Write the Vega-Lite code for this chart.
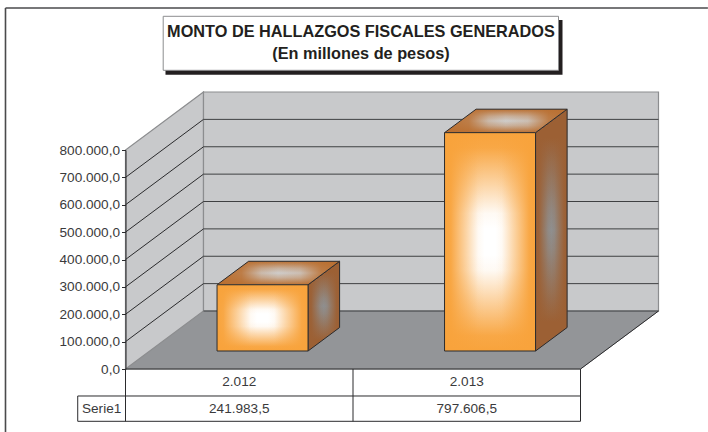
{
"$schema":"https://vega.github.io/schema/vega-lite/v6.json",
"width":455,"height":219,
"autosize":{"type":"none"},
"padding":{"left":125.5,"top":150,"right":127.5,"bottom":63},
"background":"white",
"config":{"view":{"stroke":null},"locale":{"number":{"decimal":",","thousands":".","grouping":[3],"currency":["$",""]}},"text":{"font":"Liberation Sans"}},
"datasets":{
"barras":[
{"anio":"2.012","valor":241983.5,"inicio":0.296,"fin":0.696,"centro":0.5},
{"anio":"2.013","valor":797606.5,"inicio":1.296,"fin":1.696,"centro":1.5}],
"marcas":[{"valor":0},{"valor":100000},{"valor":200000},{"valor":300000},{"valor":400000},{"valor":500000},{"valor":600000},{"valor":700000},{"valor":800000}],
"planos":[
{"plano":"suelo","orden":1,"px":0,"py":0},{"plano":"suelo","orden":2,"px":2,"py":0},{"plano":"suelo","orden":3,"px":2.34286,"py":211872},{"plano":"suelo","orden":4,"px":0.34286,"py":211872},
{"plano":"pared","orden":1,"px":0,"py":0},{"plano":"pared","orden":2,"px":0.34286,"py":211872},{"plano":"pared","orden":3,"px":0.34286,"py":1011872},{"plano":"pared","orden":4,"px":0,"py":800000},
{"plano":"fondo","orden":1,"px":0.34286,"py":211872},{"plano":"fondo","orden":2,"px":2.34286,"py":211872},{"plano":"fondo","orden":3,"px":2.34286,"py":1011872},{"plano":"fondo","orden":4,"px":0.34286,"py":1011872}],
"caras":[
{"anio":"2.012","cara":"lado","orden":1,"px":0.80229,"py":65680},{"anio":"2.012","cara":"lado","orden":2,"px":0.94114,"py":151488},{"anio":"2.012","cara":"lado","orden":3,"px":0.94114,"py":393471.5},{"anio":"2.012","cara":"lado","orden":4,"px":0.80229,"py":307663.5},
{"anio":"2.013","cara":"lado","orden":1,"px":1.80229,"py":65680},{"anio":"2.013","cara":"lado","orden":2,"px":1.94114,"py":151488},{"anio":"2.013","cara":"lado","orden":3,"px":1.94114,"py":949094.5},{"anio":"2.013","cara":"lado","orden":4,"px":1.80229,"py":863286.5},
{"anio":"2.012","cara":"techo","orden":1,"px":0.40229,"py":307663.5},{"anio":"2.012","cara":"techo","orden":2,"px":0.80229,"py":307663.5},{"anio":"2.012","cara":"techo","orden":3,"px":0.94114,"py":393471.5},{"anio":"2.012","cara":"techo","orden":4,"px":0.54114,"py":393471.5},
{"anio":"2.013","cara":"techo","orden":1,"px":1.40229,"py":863286.5},{"anio":"2.013","cara":"techo","orden":2,"px":1.80229,"py":863286.5},{"anio":"2.013","cara":"techo","orden":3,"px":1.94114,"py":949094.5},{"anio":"2.013","cara":"techo","orden":4,"px":1.54114,"py":949094.5}]
},
"encoding":{
"x":{"type":"quantitative","scale":{"domain":[0,2],"range":[0,455],"nice":false,"zero":false},"axis":null},
"y":{"type":"quantitative","scale":{"domain":[0,800000],"range":[219,0],"nice":false,"zero":false},"axis":{"values":[0,100000,200000,300000,400000,500000,600000,700000,800000],"format":",.1f","title":null,"grid":false,"domainColor":"#2b2b2d","tickColor":"#2b2b2d","tickSize":4,"labelPadding":2,"labelFont":"Liberation Sans","labelFontSize":13.6,"labelColor":"#3a3a3c","zindex":1}}
},
"layer":[
{"data":{"name":"planos"},"transform":[{"filter":{"field":"plano","equal":"suelo"}}],"mark":{"type":"line","interpolate":"linear-closed","fill":"#939598","stroke":"#939598","strokeWidth":1},
"encoding":{"x":{"field":"px"},"y":{"field":"py"},"order":{"field":"orden"}}},
{"data":{"name":"planos"},"transform":[{"filter":{"field":"plano","equal":"pared"}}],"mark":{"type":"line","interpolate":"linear-closed","fill":"#c8c9cb","stroke":"#8c8d8f","strokeWidth":1.2},
"encoding":{"x":{"field":"px"},"y":{"field":"py"},"order":{"field":"orden"}}},
{"data":{"name":"planos"},"transform":[{"filter":{"field":"plano","equal":"fondo"}}],"mark":{"type":"line","interpolate":"linear-closed","fill":"#c8c9cb","stroke":"#8c8d8f","strokeWidth":1.2},
"encoding":{"x":{"field":"px"},"y":{"field":"py"},"order":{"field":"orden"}}},
{"data":{"name":"marcas"},"transform":[{"filter":{"field":"valor","range":[0,700000]}}],"mark":{"type":"rule","stroke":"#3f4042","strokeWidth":1,"xOffset":78,"x2Offset":78,"yOffset":-58},
"encoding":{"x":{"datum":0},"x2":{"datum":2},"y":{"field":"valor"}}},
{"data":{"name":"marcas"},"transform":[{"filter":{"field":"valor","range":[100000,700000]}}],"mark":{"type":"rule","stroke":"#2b2b2d","strokeWidth":1,"x2Offset":78,"y2Offset":-58},
"encoding":{"x":{"datum":0},"x2":{"datum":0},"y":{"field":"valor"},"y2":{"field":"valor"}}},
{"data":{"values":[{}]},"mark":{"type":"rule","stroke":"#2b2b2d","strokeWidth":1,"x2Offset":78,"y2Offset":-58},"encoding":{"x":{"datum":2},"x2":{"datum":2},"y":{"datum":0},"y2":{"datum":0}}},

{"data":{"name":"caras"},"transform":[{"filter":{"field":"cara","equal":"lado"}}],"mark":{"type":"line","interpolate":"linear-closed","fill":"#8f8f8f","strokeWidth":0},
"encoding":{"x":{"field":"px"},"y":{"field":"py"},"detail":{"field":"anio"},"order":{"field":"orden"}}},
{"data":{"name":"caras"},"transform":[{"filter":{"field":"cara","equal":"lado"}}],"mark":{"type":"line","interpolate":"linear-closed","strokeWidth":0,"fill":{"gradient":"linear","x1":0,"y1":0,"x2":0,"y2":1,"stops":[{"offset":0,"color":"rgba(156,96,52,1)"},{"offset":0.12,"color":"rgba(156,96,52,1)"},{"offset":0.42,"color":"rgba(156,96,52,0.15)"},{"offset":0.5,"color":"rgba(156,96,52,0)"},{"offset":0.58,"color":"rgba(156,96,52,0.15)"},{"offset":0.88,"color":"rgba(156,96,52,1)"},{"offset":1,"color":"rgba(156,96,52,1)"}]}},
"encoding":{"x":{"field":"px"},"y":{"field":"py"},"detail":{"field":"anio"},"order":{"field":"orden"}}},
{"data":{"name":"caras"},"transform":[{"filter":{"field":"cara","equal":"lado"}}],"mark":{"type":"line","interpolate":"linear-closed","stroke":"#2b2b2d","strokeWidth":1,"fill":{"gradient":"linear","x1":0,"y1":0,"x2":1,"y2":0,"stops":[{"offset":0,"color":"rgba(156,96,52,1)"},{"offset":0.1,"color":"rgba(156,96,52,0.95)"},{"offset":0.4,"color":"rgba(156,96,52,0.1)"},{"offset":0.5,"color":"rgba(156,96,52,0)"},{"offset":0.6,"color":"rgba(156,96,52,0.1)"},{"offset":0.9,"color":"rgba(156,96,52,0.95)"},{"offset":1,"color":"rgba(156,96,52,1)"}]}},
"encoding":{"x":{"field":"px"},"y":{"field":"py"},"detail":{"field":"anio"},"order":{"field":"orden"}}},

{"data":{"name":"caras"},"transform":[{"filter":{"field":"cara","equal":"techo"}}],"mark":{"type":"line","interpolate":"linear-closed","fill":"#cfcdcb","strokeWidth":0},
"encoding":{"x":{"field":"px"},"y":{"field":"py"},"detail":{"field":"anio"},"order":{"field":"orden"}}},
{"data":{"name":"caras"},"transform":[{"filter":{"field":"cara","equal":"techo"}}],"mark":{"type":"line","interpolate":"linear-closed","strokeWidth":0,"fill":{"gradient":"linear","x1":0,"y1":0,"x2":0,"y2":1,"stops":[{"offset":0,"color":"rgba(186,112,50,1)"},{"offset":0.3,"color":"rgba(186,112,50,0.3)"},{"offset":0.5,"color":"rgba(186,112,50,0)"},{"offset":0.7,"color":"rgba(186,112,50,0.3)"},{"offset":1,"color":"rgba(186,112,50,1)"}]}},
"encoding":{"x":{"field":"px"},"y":{"field":"py"},"detail":{"field":"anio"},"order":{"field":"orden"}}},
{"data":{"name":"caras"},"transform":[{"filter":{"field":"cara","equal":"techo"}}],"mark":{"type":"line","interpolate":"linear-closed","stroke":"#2b2b2d","strokeWidth":1,"fill":{"gradient":"linear","x1":0,"y1":0,"x2":1,"y2":0,"stops":[{"offset":0,"color":"rgba(186,112,50,1)"},{"offset":0.2,"color":"rgba(186,112,50,0.85)"},{"offset":0.36,"color":"rgba(186,112,50,0.2)"},{"offset":0.5,"color":"rgba(186,112,50,0)"},{"offset":0.68,"color":"rgba(186,112,50,0.15)"},{"offset":0.85,"color":"rgba(186,112,50,0.85)"},{"offset":1,"color":"rgba(186,112,50,1)"}]}},
"encoding":{"x":{"field":"px"},"y":{"field":"py"},"detail":{"field":"anio"},"order":{"field":"orden"}}},

{"data":{"name":"barras"},"mark":{"type":"rect","fill":"#ffffff","xOffset":24.2,"x2Offset":24.2,"yOffset":-18,"y2Offset":-18},
"encoding":{"x":{"field":"inicio"},"x2":{"field":"fin"},"y":{"field":"valor"},"y2":{"datum":0}}},
{"data":{"name":"barras"},"mark":{"type":"rect","xOffset":24.2,"x2Offset":24.2,"yOffset":-18,"y2Offset":-18,"fill":{"gradient":"linear","x1":0,"y1":0,"x2":0,"y2":1,"stops":[{"offset":0,"color":"rgba(248,163,60,1)"},{"offset":0.07,"color":"rgba(248,163,60,0.95)"},{"offset":0.24,"color":"rgba(248,163,60,0.45)"},{"offset":0.37,"color":"rgba(248,163,60,0.06)"},{"offset":0.44,"color":"rgba(248,163,60,0)"},{"offset":0.56,"color":"rgba(248,163,60,0)"},{"offset":0.63,"color":"rgba(248,163,60,0.06)"},{"offset":0.76,"color":"rgba(248,163,60,0.45)"},{"offset":0.93,"color":"rgba(248,163,60,0.95)"},{"offset":1,"color":"rgba(248,163,60,1)"}]}},
"encoding":{"x":{"field":"inicio"},"x2":{"field":"fin"},"y":{"field":"valor"},"y2":{"datum":0}}},
{"data":{"name":"barras"},"mark":{"type":"rect","xOffset":24.2,"x2Offset":24.2,"yOffset":-18,"y2Offset":-18,"stroke":"#2b2b2d","strokeWidth":1,"fill":{"gradient":"linear","x1":0,"y1":0,"x2":1,"y2":0,"stops":[{"offset":0,"color":"rgba(248,163,60,1)"},{"offset":0.07,"color":"rgba(248,163,60,0.95)"},{"offset":0.24,"color":"rgba(248,163,60,0.45)"},{"offset":0.37,"color":"rgba(248,163,60,0.06)"},{"offset":0.44,"color":"rgba(248,163,60,0)"},{"offset":0.56,"color":"rgba(248,163,60,0)"},{"offset":0.63,"color":"rgba(248,163,60,0.06)"},{"offset":0.76,"color":"rgba(248,163,60,0.45)"},{"offset":0.93,"color":"rgba(248,163,60,0.95)"},{"offset":1,"color":"rgba(248,163,60,1)"}]}},
"encoding":{"x":{"field":"inicio"},"x2":{"field":"fin"},"y":{"field":"valor"},"y2":{"datum":0}}},

{"data":{"values":[{}]},"mark":{"type":"rule","stroke":"#2b2b2d","strokeWidth":1},"encoding":{"x":{"datum":0},"x2":{"datum":2},"y":{"datum":0}}},
{"data":{"values":[{}]},"mark":{"type":"rule","stroke":"#2b2b2d","strokeWidth":1},"encoding":{"x":{"datum":-0.21},"x2":{"datum":2},"y":{"datum":-98630}}},
{"data":{"values":[{}]},"mark":{"type":"rule","stroke":"#2b2b2d","strokeWidth":1},"encoding":{"x":{"datum":-0.21},"x2":{"datum":2},"y":{"datum":-191050}}},
{"data":{"values":[{}]},"mark":{"type":"rule","stroke":"#2b2b2d","strokeWidth":1},"encoding":{"x":{"datum":0},"y":{"datum":0},"y2":{"datum":-191050}}},
{"data":{"values":[{}]},"mark":{"type":"rule","stroke":"#2b2b2d","strokeWidth":1},"encoding":{"x":{"datum":1},"y":{"datum":0},"y2":{"datum":-191050}}},
{"data":{"values":[{}]},"mark":{"type":"rule","stroke":"#2b2b2d","strokeWidth":1},"encoding":{"x":{"datum":2},"y":{"datum":0},"y2":{"datum":-191050}}},
{"data":{"values":[{}]},"mark":{"type":"rule","stroke":"#2b2b2d","strokeWidth":1},"encoding":{"x":{"datum":-0.21},"y":{"datum":-98630},"y2":{"datum":-191050}}},
{"data":{"name":"barras"},"mark":{"type":"text","fontSize":13.6,"color":"#3a3a3c","align":"center","baseline":"middle"},"encoding":{"x":{"field":"centro"},"y":{"datum":-47000},"text":{"field":"anio"}}},
{"data":{"name":"barras"},"mark":{"type":"text","fontSize":13.6,"color":"#3a3a3c","align":"center","baseline":"middle"},"encoding":{"x":{"field":"centro"},"y":{"datum":-146000},"text":{"field":"valor","type":"quantitative","format":",.1f"}}},
{"data":{"values":[{"serie":"Serie1"}]},"mark":{"type":"text","fontSize":13.6,"color":"#3a3a3c","align":"center","baseline":"middle"},"encoding":{"x":{"datum":-0.105},"y":{"datum":-146000},"text":{"field":"serie"}}},

{"data":{"values":[{}]},"mark":{"type":"rule","stroke":"#4a4a4c","strokeWidth":1.6},"encoding":{"x":{"datum":-0.5275},"y":{"datum":1318721},"y2":{"datum":-235000}}},
{"data":{"values":[{}]},"mark":{"type":"rule","stroke":"#4a4a4c","strokeWidth":1.6},"encoding":{"x":{"datum":-0.5275},"x2":{"datum":2.56},"y":{"datum":1318721}}},
{"data":{"values":[{}]},"mark":{"type":"rect","fill":"#231f20"},"encoding":{"x":{"datum":0.1758},"x2":{"datum":1.9209},"y":{"datum":1274886},"y2":{"datum":1075068}}},
{"data":{"values":[{}]},"mark":{"type":"rect","fill":"#ffffff","stroke":"#8c8d8f","strokeWidth":1},"encoding":{"x":{"datum":0.1657},"x2":{"datum":1.9033},"y":{"datum":1288402},"y2":{"datum":1091142}}},
{"data":{"values":[{"titulo":"MONTO DE HALLAZGOS FISCALES GENERADOS"}]},"mark":{"type":"text","font":"Liberation Sans","fontSize":16.3,"fontWeight":"bold","color":"#231f20","align":"center","baseline":"alphabetic"},"encoding":{"x":{"datum":1.035},"y":{"datum":1212785},"text":{"field":"titulo"}}},
{"data":{"values":[{"titulo":"(En millones de pesos)"}]},"mark":{"type":"text","font":"Liberation Sans","fontSize":16.3,"fontWeight":"bold","color":"#231f20","align":"center","baseline":"alphabetic"},"encoding":{"x":{"datum":1.035},"y":{"datum":1131324},"text":{"field":"titulo"}}}
]
}
